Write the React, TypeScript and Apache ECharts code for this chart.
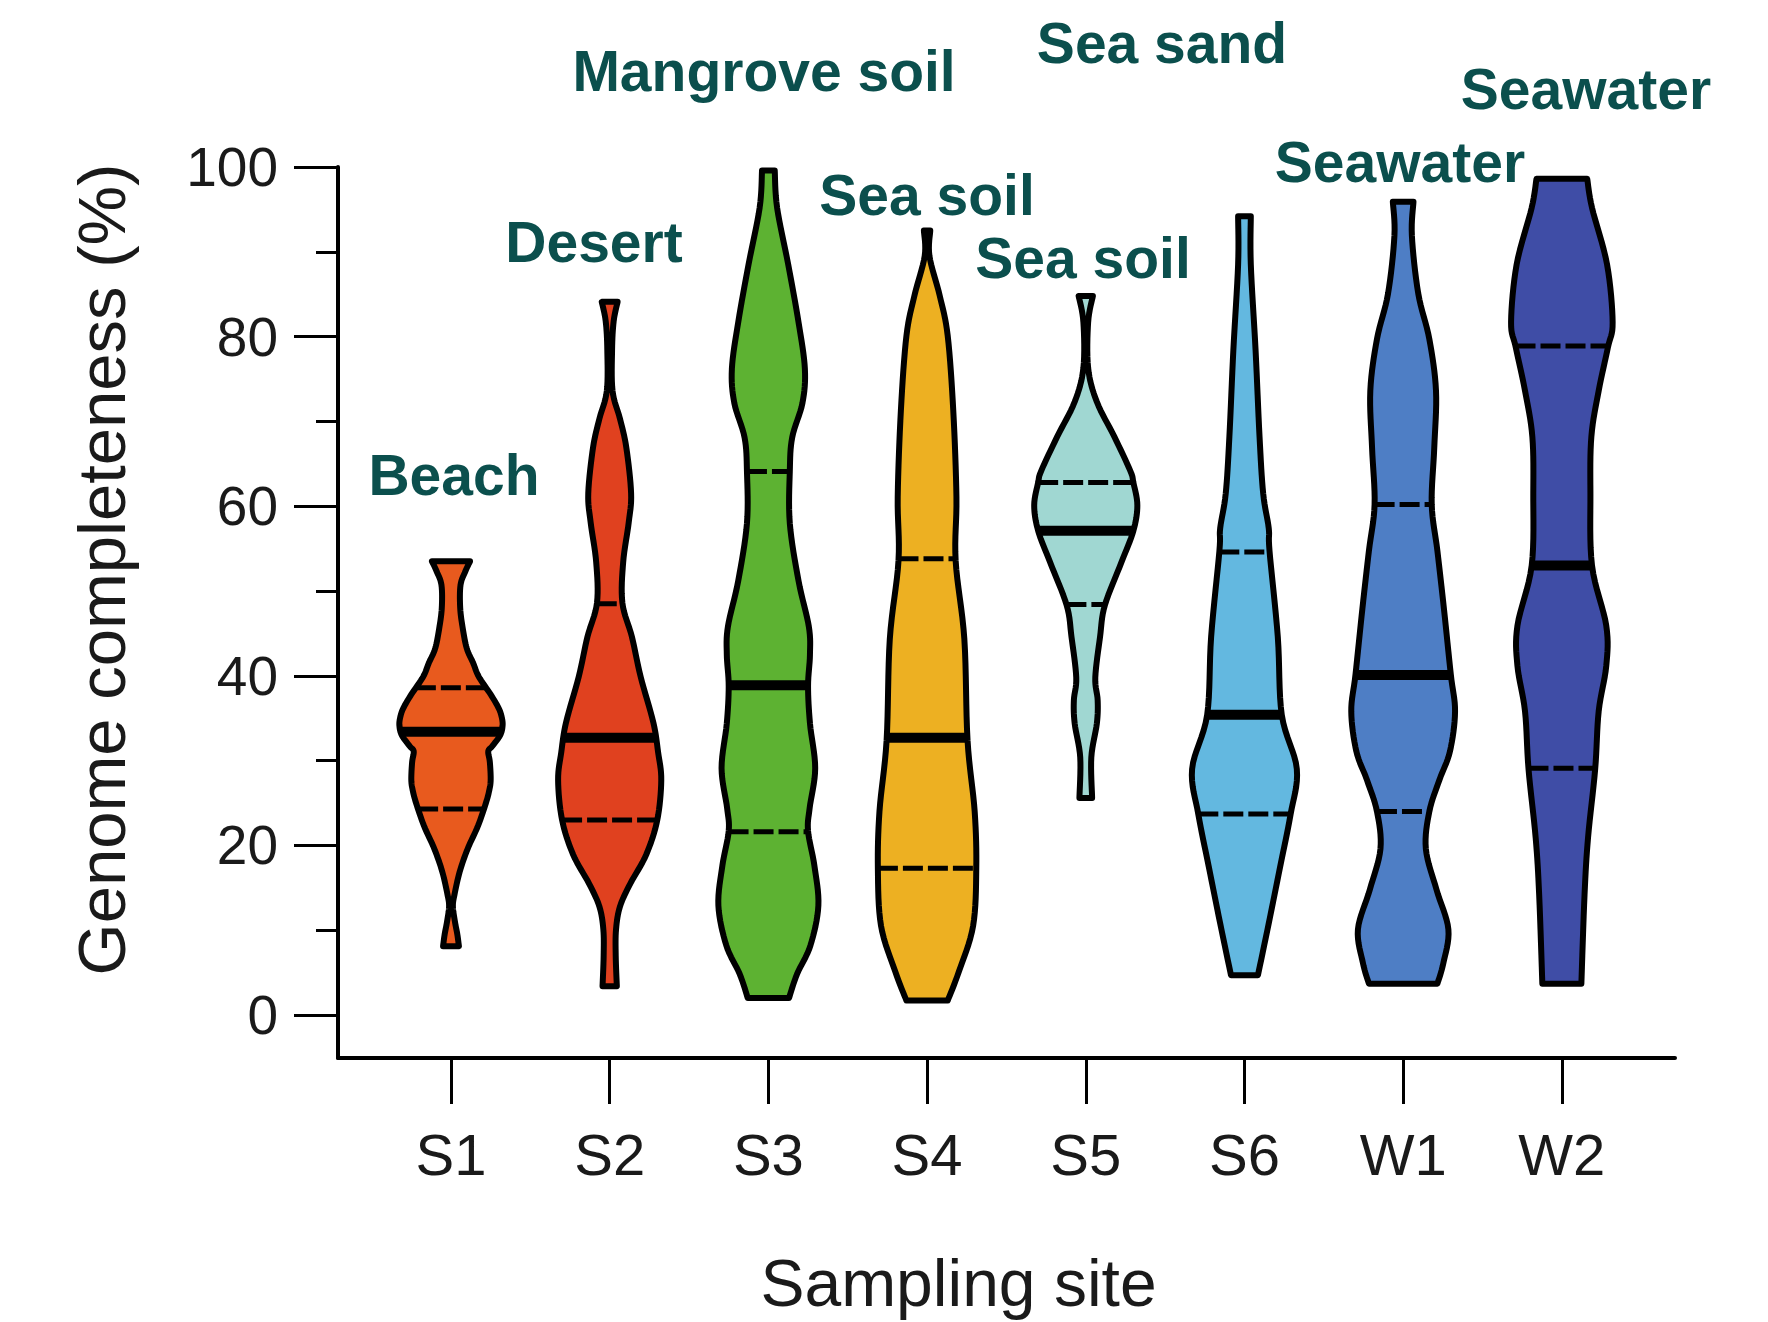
import React, { useEffect, useRef } from "react";
import * as echarts from "echarts";

// ---------- data ----------
const sites = ["S1", "S2", "S3", "S4", "S5", "S6", "W1", "W2"];
const habitatLabels = ["Beach", "Desert", "Mangrove soil", "Sea soil", "Sea soil", "Sea sand", "Seawater", "Seawater"];
const yMajorTicks = [0, 20, 40, 60, 80, 100];
const yMinorTicks = [10, 30, 50, 70, 90];

// violin outlines: [genome completeness %, half width in site units], top to bottom
const s1Profile = [[53.5, 0.12], [52.3, 0.09], [50.7, 0.06], [48.0, 0.058], [45.5, 0.075], [43.2, 0.1], [41.5, 0.14], [39.9, 0.175], [37.8, 0.25], [36.2, 0.3], [35.1, 0.32], [34.1, 0.325], [33.0, 0.31], [31.7, 0.26], [31.1, 0.235], [29.8, 0.245], [27.7, 0.25], [26.4, 0.24], [25.0, 0.22], [22.3, 0.17], [19.6, 0.105], [16.9, 0.055], [14.2, 0.022], [12.8, 0.012], [11.0, 0.025], [9.5, 0.04], [8.1, 0.05]];
const s2Profile = [[84.1, 0.05], [81.8, 0.025], [78.4, 0.015], [73.6, 0.018], [70.3, 0.065], [66.9, 0.105], [61.5, 0.135], [58.1, 0.12], [53.4, 0.085], [48.6, 0.08], [44.6, 0.14], [39.9, 0.195], [34.5, 0.275], [31.0, 0.305], [27.7, 0.325], [23.0, 0.3], [18.9, 0.23], [15.5, 0.13], [12.8, 0.065], [10.1, 0.04], [7.0, 0.038], [3.4, 0.045]];
const s3Profile = [[99.6, 0.04], [95.2, 0.055], [88.5, 0.125], [81.7, 0.19], [76.2, 0.23], [72.2, 0.215], [68.1, 0.15], [64.1, 0.135], [58.0, 0.135], [51.2, 0.19], [45.8, 0.255], [42.5, 0.262], [38.8, 0.25], [34.4, 0.262], [29.1, 0.295], [24.4, 0.26], [21.7, 0.25], [17.6, 0.29], [12.9, 0.315], [8.2, 0.265], [4.8, 0.18], [2.0, 0.13]];
const s4Profile = [[92.5, 0.02], [89.5, 0.015], [84.8, 0.08], [80.1, 0.13], [71.3, 0.165], [61.1, 0.185], [53.6, 0.18], [44.3, 0.235], [32.4, 0.255], [24.0, 0.3], [17.2, 0.31], [10.5, 0.29], [5.1, 0.2], [1.7, 0.13]];
const s5Profile = [[84.8, 0.045], [81.7, 0.015], [76.3, 0.015], [72.3, 0.07], [68.2, 0.18], [64.2, 0.28], [62.8, 0.3], [60.1, 0.325], [57.1, 0.3], [53.4, 0.225], [48.3, 0.12], [44.6, 0.09], [39.8, 0.06], [37.1, 0.075], [34.4, 0.07], [30.4, 0.035], [25.6, 0.04]];
const s6Profile = [[94.2, 0.04], [88.5, 0.04], [78.4, 0.07], [68.2, 0.095], [61.5, 0.118], [57.4, 0.153], [54.7, 0.158], [44.6, 0.21], [35.4, 0.235], [29.0, 0.33], [23.6, 0.29], [17.5, 0.225], [10.8, 0.153], [4.7, 0.085]];
const w1Profile = [[95.9, 0.065], [91.9, 0.055], [85.1, 0.095], [79.7, 0.165], [73.6, 0.207], [66.9, 0.196], [60.2, 0.18], [54.7, 0.216], [47.9, 0.257], [40.2, 0.3], [35.8, 0.327], [31.1, 0.295], [27.7, 0.228], [24.0, 0.165], [19.6, 0.143], [14.8, 0.21], [10.1, 0.285], [6.1, 0.253], [3.7, 0.216]];
const w2Profile = [[98.6, 0.16], [95.2, 0.19], [88.5, 0.285], [81.7, 0.32], [78.7, 0.29], [73.6, 0.232], [68.2, 0.186], [61.5, 0.18], [53.0, 0.19], [45.9, 0.28], [41.2, 0.28], [35.8, 0.232], [29.0, 0.21], [20.9, 0.165], [14.2, 0.143], [3.7, 0.123]];

const upperQuartiles = [38.6, 48.5, 64.1, 53.8, 62.8, 54.6, 60.2, 78.9];
const medians = [33.4, 32.7, 38.9, 32.7, 57.1, 35.4, 40.1, 53.0];
const lowerQuartiles = [24.3, 23.0, 21.6, 17.3, 48.4, 23.7, 24.0, 29.1];

const profiles = [s1Profile, s2Profile, s3Profile, s4Profile, s5Profile, s6Profile, w1Profile, w2Profile];
const fillColors = ["#E85A1E", "#E0411F", "#5DB232", "#EDB022", "#A0D7D2", "#63B8E0", "#4E7EC5", "#3F4DA6"];

// ---------- layout ----------
const FONT = "'Liberation Sans', Arial, Helvetica, sans-serif";
const annotationPos = [
  [454, 475], [594, 242], [764, 71], [927, 195], [1083, 258], [1162, 43], [1400, 162], [1586, 89],
];

function smoothSide(p: number[][], seg = 8): number[][] {
  const out: number[][] = [];
  for (let k = 0; k < p.length - 1; k++) {
    const p0 = p[k - 1] || p[k];
    const p1 = p[k];
    const p2 = p[k + 1];
    const p3 = p[k + 2] || p[k + 1];
    for (let t = 0; t < seg; t++) {
      const s = t / seg, s2 = s * s, s3 = s2 * s;
      const f = (a: number, b: number, c: number, d: number) =>
        0.5 * (2 * b + (-a + c) * s + (2 * a - 5 * b + 4 * c - d) * s2 + (-a + 3 * b - 3 * c + d) * s3);
      out.push([f(p0[0], p1[0], p2[0], p3[0]), f(p0[1], p1[1], p2[1], p3[1])]);
    }
  }
  out.push(p[p.length - 1]);
  return out;
}

function halfWidthAt(prof: number[][], v: number): number {
  for (let k = 0; k < prof.length - 1; k++) {
    const [va, wa] = prof[k];
    const [vb, wb] = prof[k + 1];
    if (v <= va && v >= vb) {
      const t = (va - v) / (va - vb);
      return wa + (wb - wa) * t;
    }
  }
  return prof[prof.length - 1][1];
}

export default function App() {
  const ref = useRef<HTMLDivElement>(null);
  useEffect(() => {
    document.body.style.margin = "0";
    const chart = echarts.init(ref.current!, null, { renderer: "svg" });
    const yMin = -5.07;
    const option: any = {
      animation: false,
      backgroundColor: "#ffffff",
      grid: { left: 338, right: 93, top: 167, bottom: 264, outerBoundsMode: "none" },
      xAxis: {
        type: "value",
        min: -0.712,
        max: 7.713,
        splitLine: { show: false },
        axisLine: { show: true, onZero: false, lineStyle: { color: "#000", width: 4 } },
        axisTick: { show: true, customValues: sites.map((_, i) => i), length: 46, lineStyle: { color: "#000", width: 3 } },
        axisLabel: {
          customValues: sites.map((_, i) => i),
          formatter: (v: number) => sites[Math.round(v)] ?? "",
          fontSize: 58, color: "#1a1a1a", margin: 67, fontFamily: FONT,
        },
        name: "Sampling site",
        nameLocation: "middle",
        nameGap: 192,
        nameTextStyle: { fontSize: 66, color: "#1a1a1a", fontFamily: FONT, padding: [0, 96, 0, 0] },
      },
      yAxis: [
        {
          type: "value",
          min: yMin,
          max: 100,
          splitLine: { show: false },
          axisLine: { show: true, onZero: false, lineStyle: { color: "#000", width: 4 } },
          axisTick: { show: true, customValues: yMajorTicks, length: 44, lineStyle: { color: "#000", width: 3 } },
          axisLabel: { customValues: yMajorTicks, fontSize: 55, color: "#1a1a1a", margin: 60, fontFamily: FONT },
          name: "Genome completeness (%)",
          nameLocation: "middle",
          nameGap: 203,
          nameTextStyle: { fontSize: 67, color: "#1a1a1a", fontFamily: FONT, padding: [0, 0, 0, 86] },
        },
        {
          type: "value",
          min: yMin,
          max: 100,
          position: "left",
          offset: 0,
          splitLine: { show: false },
          axisLine: { show: false, onZero: false },
          axisTick: { show: true, customValues: yMinorTicks, length: 22, lineStyle: { color: "#000", width: 3 } },
          axisLabel: { show: false },
        },
      ],
      series: [
        {
          type: "custom",
          coordinateSystem: "cartesian2d",
          xAxisIndex: 0,
          yAxisIndex: 0,
          clip: false,
          data: sites.map((_, i) => [i, medians[i]]),
          encode: { x: 0, y: 1 },
          renderItem: (params: any, api: any) => {
            const i = params.dataIndex;
            const prof = profiles[i];
            const right = prof.map(([v, w]) => api.coord([i + w, v]));
            const left = prof.map(([v, w]) => api.coord([i - w, v]));
            const pts = smoothSide(right).concat(smoothSide(left).reverse());
            const line = (v: number, width: number, dash: number[] | null) => {
              const w = halfWidthAt(prof, v);
              const a = api.coord([i - w, v]);
              const b = api.coord([i + w, v]);
              return {
                type: "line",
                shape: { x1: a[0], y1: a[1], x2: b[0], y2: b[1] },
                style: { stroke: "#000", lineWidth: width, lineDash: dash || undefined },
              };
            };
            return {
              type: "group",
              children: [
                {
                  type: "polygon",
                  shape: { points: pts },
                  style: { fill: fillColors[i], stroke: "#000", lineWidth: 6, lineJoin: "round" },
                },
                line(upperQuartiles[i], 5, [20, 5]),
                line(medians[i], 10, null),
                line(lowerQuartiles[i], 5, [20, 5]),
              ],
            };
          },
        },
      ],
      graphic: habitatLabels.map((t, k) => ({
        type: "text",
        x: annotationPos[k][0],
        y: annotationPos[k][1],
        style: {
          text: t,
          fill: "#0B4F4D",
          fontSize: 57,
          fontWeight: "bold",
          fontFamily: FONT,
          align: "center",
          verticalAlign: "middle",
        },
      })),
    };
    chart.setOption(option);
    return () => chart.dispose();
  }, []);
  return <div ref={ref} style={{ width: 1768, height: 1322 }} />;
}
